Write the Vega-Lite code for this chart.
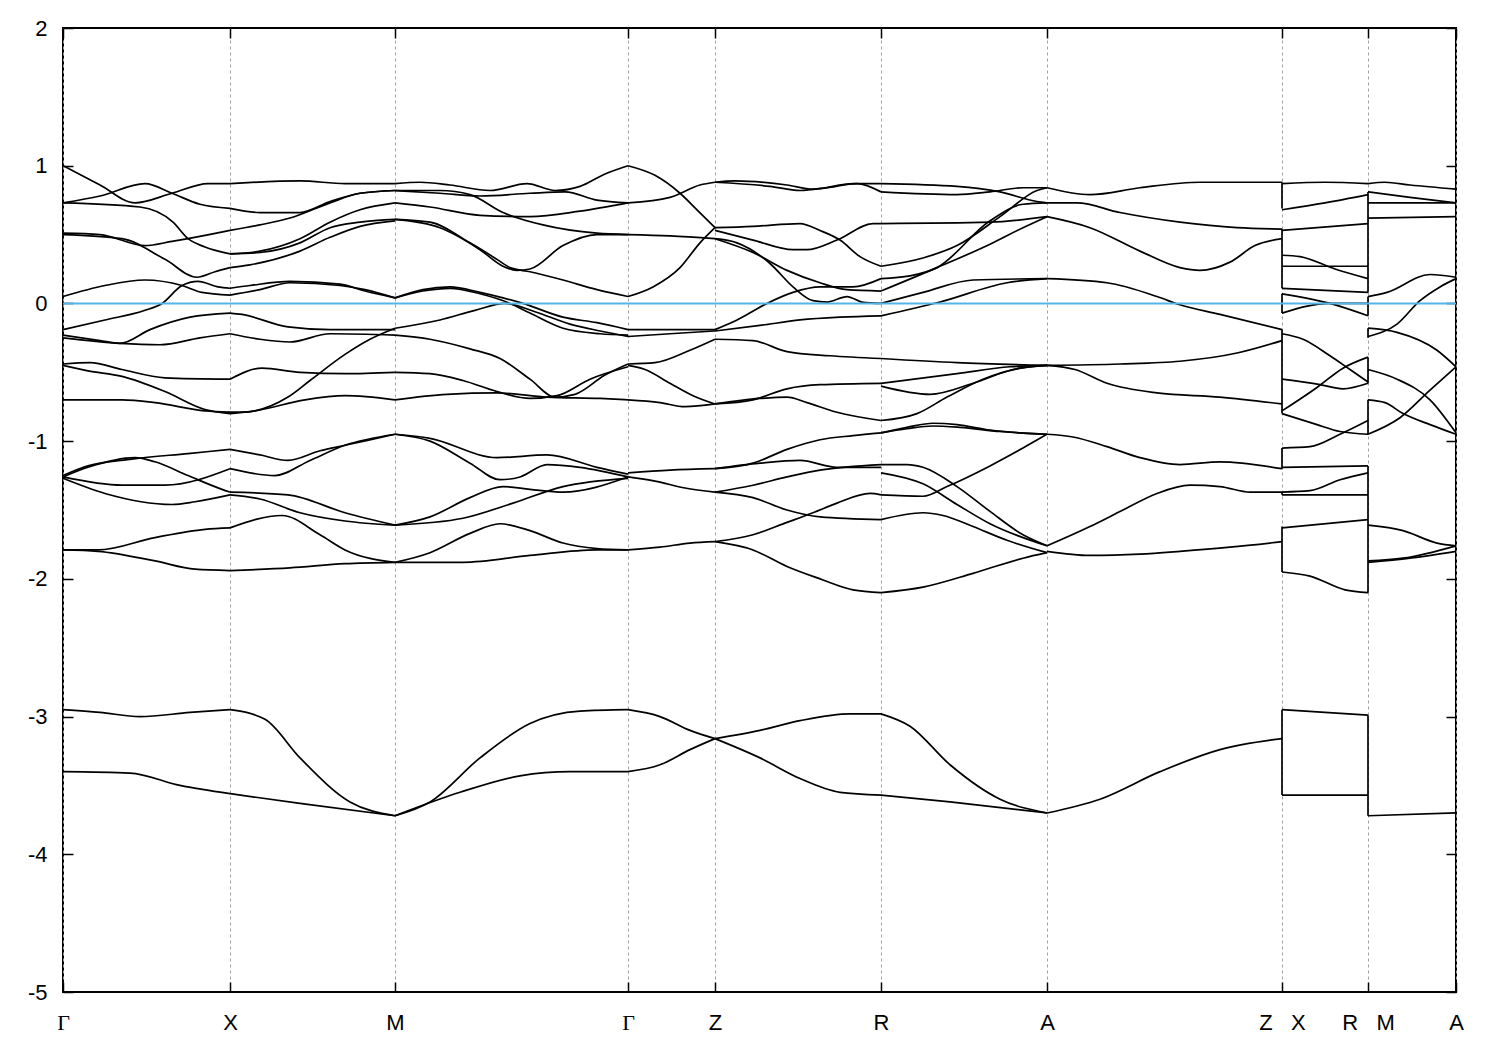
{
"$schema": "https://vega.github.io/schema/vega-lite/v6.json",
"width": 1393, "height": 964,
"autosize": {"type": "none"},
"padding": {"left": 63, "top": 28, "right": 44, "bottom": 58},
"background": "white",
"config": {"view": {"stroke": "black", "strokeWidth": 2}},
"datasets": {
"jumps": [
{"k":1219,"lo":0.69,"hi":0.88},{"k":1219,"lo":0.11,"hi":0.54},{"k":1219,"lo":-0.07,"hi":0.07},{"k":1219,"lo":-0.80,"hi":-0.19},{"k":1219,"lo":-1.20,"hi":-1.05},{"k":1219,"lo":-1.39,"hi":-1.37},{"k":1219,"lo":-1.95,"hi":-1.62},{"k":1219,"lo":-3.57,"hi":-2.95},
{"k":1305,"lo":0.08,"hi":0.81},{"k":1305,"lo":-0.09,"hi":0.05},{"k":1305,"lo":-0.25,"hi":-0.18},{"k":1305,"lo":-0.58,"hi":-0.39},{"k":1305,"lo":-0.95,"hi":-0.70},{"k":1305,"lo":-2.10,"hi":-1.18},{"k":1305,"lo":-3.72,"hi":-2.99}
],
"bands": [
{"c":"1a","k":0,"e":1.0},{"c":"1a","k":37,"e":0.86},{"c":"1a","k":72,"e":0.73},{"c":"1a","k":109,"e":0.80},{"c":"1a","k":145,"e":0.87},{"c":"1a","k":167,"e":0.87},
{"c":"1b","k":0,"e":0.73},{"c":"1b","k":37,"e":0.78},{"c":"1b","k":82,"e":0.87},{"c":"1b","k":109,"e":0.80},{"c":"1b","k":137,"e":0.72},{"c":"1b","k":167,"e":0.69},
{"c":"1c","k":0,"e":0.73},{"c":"1c","k":77,"e":0.70},{"c":"1c","k":110,"e":0.59},{"c":"1c","k":125,"e":0.47},{"c":"1c","k":142,"e":0.41},{"c":"1c","k":167,"e":0.36},
{"c":"1d","k":0,"e":0.51},{"c":"1d","k":37,"e":0.50},{"c":"1d","k":82,"e":0.42},{"c":"1d","k":109,"e":0.45},{"c":"1d","k":125,"e":0.47},{"c":"1d","k":167,"e":0.53},
{"c":"1e","k":0,"e":0.50},{"c":"1e","k":59,"e":0.47},{"c":"1e","k":102,"e":0.32},{"c":"1e","k":134,"e":0.19},{"c":"1e","k":152,"e":0.23},{"c":"1e","k":167,"e":0.26},
{"c":"1f","k":0,"e":0.05},{"c":"1f","k":42,"e":0.13},{"c":"1f","k":82,"e":0.17},{"c":"1f","k":119,"e":0.13},{"c":"1f","k":139,"e":0.08},{"c":"1f","k":167,"e":0.06},
{"c":"1g","k":0,"e":-0.19},{"c":"1g","k":42,"e":-0.12},{"c":"1g","k":82,"e":-0.05},{"c":"1g","k":99,"e":0.0},{"c":"1g","k":119,"e":0.13},{"c":"1g","k":135,"e":0.16},{"c":"1g","k":155,"e":0.12},{"c":"1g","k":167,"e":0.11},
{"c":"1h","k":0,"e":-0.23},{"c":"1h","k":37,"e":-0.27},{"c":"1h","k":57,"e":-0.29},{"c":"1h","k":87,"e":-0.19},{"c":"1h","k":127,"e":-0.10},{"c":"1h","k":167,"e":-0.07},
{"c":"1i","k":0,"e":-0.25},{"c":"1i","k":57,"e":-0.29},{"c":"1i","k":97,"e":-0.30},{"c":"1i","k":137,"e":-0.25},{"c":"1i","k":167,"e":-0.22},
{"c":"1j","k":0,"e":-0.44},{"c":"1j","k":27,"e":-0.43},{"c":"1j","k":59,"e":-0.48},{"c":"1j","k":102,"e":-0.54},{"c":"1j","k":167,"e":-0.55},
{"c":"1k","k":0,"e":-0.45},{"c":"1k","k":25,"e":-0.49},{"c":"1k","k":59,"e":-0.53},{"c":"1k","k":102,"e":-0.64},{"c":"1k","k":142,"e":-0.77},{"c":"1k","k":167,"e":-0.80},
{"c":"1l","k":0,"e":-0.70},{"c":"1l","k":59,"e":-0.70},{"c":"1l","k":92,"e":-0.72},{"c":"1l","k":142,"e":-0.78},{"c":"1l","k":167,"e":-0.79},
{"c":"1m","k":0,"e":-1.25},{"c":"1m","k":25,"e":-1.18},{"c":"1m","k":69,"e":-1.13},{"c":"1m","k":125,"e":-1.09},{"c":"1m","k":167,"e":-1.06},
{"c":"1n","k":0,"e":-1.26},{"c":"1n","k":25,"e":-1.19},{"c":"1n","k":72,"e":-1.12},{"c":"1n","k":92,"e":-1.15},{"c":"1n","k":125,"e":-1.25},{"c":"1n","k":159,"e":-1.35},{"c":"1n","k":167,"e":-1.37},
{"c":"1o","k":0,"e":-1.26},{"c":"1o","k":59,"e":-1.32},{"c":"1o","k":102,"e":-1.32},{"c":"1o","k":167,"e":-1.20},
{"c":"1p","k":0,"e":-1.27},{"c":"1p","k":42,"e":-1.38},{"c":"1p","k":109,"e":-1.46},{"c":"1p","k":132,"e":-1.44},{"c":"1p","k":167,"e":-1.39},
{"c":"1q","k":0,"e":-1.79},{"c":"1q","k":35,"e":-1.79},{"c":"1q","k":92,"e":-1.70},{"c":"1q","k":142,"e":-1.64},{"c":"1q","k":167,"e":-1.63},
{"c":"1r","k":0,"e":-1.79},{"c":"1r","k":35,"e":-1.80},{"c":"1r","k":92,"e":-1.87},{"c":"1r","k":132,"e":-1.93},{"c":"1r","k":167,"e":-1.94},
{"c":"1s","k":0,"e":-2.95},{"c":"1s","k":37,"e":-2.97},{"c":"1s","k":77,"e":-3.00},{"c":"1s","k":127,"e":-2.97},{"c":"1s","k":167,"e":-2.95},
{"c":"1t","k":0,"e":-3.40},{"c":"1t","k":67,"e":-3.41},{"c":"1t","k":117,"e":-3.50},{"c":"1t","k":167,"e":-3.56},
{"c":"2a","k":167,"e":0.87},{"c":"2a","k":237,"e":0.89},{"c":"2a","k":282,"e":0.87},{"c":"2a","k":332,"e":0.87},
{"c":"2b","k":167,"e":0.69},{"c":"2b","k":197,"e":0.66},{"c":"2b","k":237,"e":0.66},{"c":"2b","k":267,"e":0.74},{"c":"2b","k":297,"e":0.80},{"c":"2b","k":332,"e":0.82},
{"c":"2c","k":167,"e":0.53},{"c":"2c","k":197,"e":0.57},{"c":"2c","k":227,"e":0.62},{"c":"2c","k":267,"e":0.73},{"c":"2c","k":297,"e":0.80},{"c":"2c","k":332,"e":0.82},
{"c":"2d","k":167,"e":0.36},{"c":"2d","k":197,"e":0.38},{"c":"2d","k":237,"e":0.47},{"c":"2d","k":267,"e":0.59},{"c":"2d","k":297,"e":0.68},{"c":"2d","k":332,"e":0.73},
{"c":"2e","k":167,"e":0.36},{"c":"2e","k":197,"e":0.37},{"c":"2e","k":237,"e":0.44},{"c":"2e","k":267,"e":0.55},{"c":"2e","k":297,"e":0.59},{"c":"2e","k":332,"e":0.61},
{"c":"2f","k":167,"e":0.26},{"c":"2f","k":187,"e":0.28},{"c":"2f","k":237,"e":0.38},{"c":"2f","k":267,"e":0.48},{"c":"2f","k":297,"e":0.56},{"c":"2f","k":332,"e":0.60},
{"c":"2g","k":167,"e":0.11},{"c":"2g","k":187,"e":0.13},{"c":"2g","k":227,"e":0.16},{"c":"2g","k":277,"e":0.14},{"c":"2g","k":302,"e":0.09},{"c":"2g","k":332,"e":0.04},
{"c":"2h","k":167,"e":0.06},{"c":"2h","k":197,"e":0.10},{"c":"2h","k":227,"e":0.15},{"c":"2h","k":277,"e":0.13},{"c":"2h","k":302,"e":0.10},{"c":"2h","k":332,"e":0.04},
{"c":"2i","k":167,"e":-0.07},{"c":"2i","k":179,"e":-0.08},{"c":"2i","k":225,"e":-0.17},{"c":"2i","k":267,"e":-0.19},{"c":"2i","k":332,"e":-0.19},
{"c":"2j","k":167,"e":-0.22},{"c":"2j","k":197,"e":-0.26},{"c":"2j","k":227,"e":-0.28},{"c":"2j","k":267,"e":-0.22},{"c":"2j","k":332,"e":-0.23},
{"c":"2k","k":167,"e":-0.55},{"c":"2k","k":199,"e":-0.47},{"c":"2k","k":237,"e":-0.50},{"c":"2k","k":282,"e":-0.51},{"c":"2k","k":332,"e":-0.50},
{"c":"2l","k":167,"e":-0.79},{"c":"2l","k":179,"e":-0.79},{"c":"2l","k":225,"e":-0.68},{"c":"2l","k":247,"e":-0.56},{"c":"2l","k":282,"e":-0.37},{"c":"2l","k":307,"e":-0.26},{"c":"2l","k":332,"e":-0.18},
{"c":"2m","k":167,"e":-0.80},{"c":"2m","k":192,"e":-0.78},{"c":"2m","k":242,"e":-0.70},{"c":"2m","k":282,"e":-0.67},{"c":"2m","k":332,"e":-0.70},
{"c":"2n","k":167,"e":-1.06},{"c":"2n","k":197,"e":-1.10},{"c":"2n","k":225,"e":-1.14},{"c":"2n","k":257,"e":-1.07},{"c":"2n","k":282,"e":-1.03},{"c":"2n","k":332,"e":-0.95},
{"c":"2o","k":167,"e":-1.20},{"c":"2o","k":212,"e":-1.25},{"c":"2o","k":247,"e":-1.14},{"c":"2o","k":282,"e":-1.03},{"c":"2o","k":332,"e":-0.95},
{"c":"2p","k":167,"e":-1.37},{"c":"2p","k":225,"e":-1.39},{"c":"2p","k":282,"e":-1.52},{"c":"2p","k":332,"e":-1.61},
{"c":"2q","k":167,"e":-1.39},{"c":"2q","k":197,"e":-1.42},{"c":"2q","k":237,"e":-1.52},{"c":"2q","k":282,"e":-1.58},{"c":"2q","k":332,"e":-1.61},
{"c":"2r","k":167,"e":-1.63},{"c":"2r","k":219,"e":-1.54},{"c":"2r","k":257,"e":-1.68},{"c":"2r","k":282,"e":-1.79},{"c":"2r","k":332,"e":-1.88},
{"c":"2s","k":167,"e":-1.94},{"c":"2s","k":227,"e":-1.92},{"c":"2s","k":282,"e":-1.89},{"c":"2s","k":332,"e":-1.88},
{"c":"2t","k":167,"e":-2.95},{"c":"2t","k":202,"e":-3.02},{"c":"2t","k":237,"e":-3.30},{"c":"2t","k":287,"e":-3.62},{"c":"2t","k":332,"e":-3.72},
{"c":"2u","k":167,"e":-3.56},{"c":"2u","k":237,"e":-3.63},{"c":"2u","k":332,"e":-3.72},
{"c":"3a","k":332,"e":0.87},{"c":"3a","k":357,"e":0.88},{"c":"3a","k":387,"e":0.86},{"c":"3a","k":427,"e":0.82},{"c":"3a","k":464,"e":0.87},{"c":"3a","k":492,"e":0.82},{"c":"3a","k":517,"e":0.85},{"c":"3a","k":542,"e":0.94},{"c":"3a","k":565,"e":1.0},
{"c":"3b","k":332,"e":0.82},{"c":"3b","k":377,"e":0.80},{"c":"3b","k":417,"e":0.78},{"c":"3b","k":467,"e":0.80},{"c":"3b","k":502,"e":0.81},{"c":"3b","k":534,"e":0.75},{"c":"3b","k":565,"e":0.73},
{"c":"3c","k":332,"e":0.82},{"c":"3c","k":377,"e":0.82},{"c":"3c","k":407,"e":0.79},{"c":"3c","k":440,"e":0.66},{"c":"3c","k":480,"e":0.57},{"c":"3c","k":534,"e":0.51},{"c":"3c","k":565,"e":0.50},
{"c":"3d","k":332,"e":0.73},{"c":"3d","k":367,"e":0.70},{"c":"3d","k":417,"e":0.64},{"c":"3d","k":467,"e":0.63},{"c":"3d","k":517,"e":0.67},{"c":"3d","k":565,"e":0.73},
{"c":"3e","k":332,"e":0.61},{"c":"3e","k":377,"e":0.55},{"c":"3e","k":417,"e":0.39},{"c":"3e","k":440,"e":0.27},{"c":"3e","k":454,"e":0.24},{"c":"3e","k":467,"e":0.25},{"c":"3e","k":500,"e":0.42},{"c":"3e","k":534,"e":0.50},{"c":"3e","k":565,"e":0.50},
{"c":"3f","k":332,"e":0.61},{"c":"3f","k":367,"e":0.59},{"c":"3f","k":407,"e":0.44},{"c":"3f","k":434,"e":0.32},{"c":"3f","k":447,"e":0.26},{"c":"3f","k":467,"e":0.23},{"c":"3f","k":500,"e":0.17},{"c":"3f","k":534,"e":0.10},{"c":"3f","k":565,"e":0.05},
{"c":"3g","k":332,"e":0.04},{"c":"3g","k":360,"e":0.10},{"c":"3g","k":387,"e":0.12},{"c":"3g","k":417,"e":0.08},{"c":"3g","k":440,"e":0.04},{"c":"3g","k":460,"e":0.0},{"c":"3g","k":500,"e":-0.10},{"c":"3g","k":534,"e":-0.14},{"c":"3g","k":565,"e":-0.19},
{"c":"3h","k":332,"e":0.04},{"c":"3h","k":360,"e":0.09},{"c":"3h","k":387,"e":0.11},{"c":"3h","k":417,"e":0.07},{"c":"3h","k":447,"e":0.0},{"c":"3h","k":467,"e":-0.07},{"c":"3h","k":500,"e":-0.18},{"c":"3h","k":537,"e":-0.22},{"c":"3h","k":565,"e":-0.23},
{"c":"3i","k":332,"e":-0.18},{"c":"3i","k":377,"e":-0.12},{"c":"3i","k":412,"e":-0.05},{"c":"3i","k":442,"e":0.0},{"c":"3i","k":472,"e":-0.06},{"c":"3i","k":507,"e":-0.15},{"c":"3i","k":537,"e":-0.20},{"c":"3i","k":565,"e":-0.24},
{"c":"3j","k":332,"e":-0.23},{"c":"3j","k":367,"e":-0.26},{"c":"3j","k":407,"e":-0.33},{"c":"3j","k":437,"e":-0.40},{"c":"3j","k":467,"e":-0.55},{"c":"3j","k":492,"e":-0.68},{"c":"3j","k":512,"e":-0.66},{"c":"3j","k":542,"e":-0.52},{"c":"3j","k":565,"e":-0.44},
{"c":"3k","k":332,"e":-0.50},{"c":"3k","k":367,"e":-0.51},{"c":"3k","k":400,"e":-0.56},{"c":"3k","k":434,"e":-0.64},{"c":"3k","k":467,"e":-0.69},{"c":"3k","k":494,"e":-0.67},{"c":"3k","k":527,"e":-0.55},{"c":"3k","k":565,"e":-0.46},
{"c":"3l","k":332,"e":-0.70},{"c":"3l","k":384,"e":-0.66},{"c":"3l","k":434,"e":-0.65},{"c":"3l","k":484,"e":-0.68},{"c":"3l","k":537,"e":-0.69},{"c":"3l","k":565,"e":-0.70},
{"c":"3m","k":332,"e":-0.95},{"c":"3m","k":367,"e":-0.98},{"c":"3m","k":434,"e":-1.12},{"c":"3m","k":484,"e":-1.10},{"c":"3m","k":534,"e":-1.19},{"c":"3m","k":565,"e":-1.24},
{"c":"3n","k":332,"e":-0.95},{"c":"3n","k":367,"e":-1.00},{"c":"3n","k":407,"e":-1.16},{"c":"3n","k":437,"e":-1.28},{"c":"3n","k":457,"e":-1.26},{"c":"3n","k":484,"e":-1.17},{"c":"3n","k":517,"e":-1.19},{"c":"3n","k":565,"e":-1.26},
{"c":"3o","k":332,"e":-1.61},{"c":"3o","k":367,"e":-1.55},{"c":"3o","k":407,"e":-1.41},{"c":"3o","k":440,"e":-1.33},{"c":"3o","k":467,"e":-1.35},{"c":"3o","k":500,"e":-1.37},{"c":"3o","k":565,"e":-1.26},
{"c":"3p","k":332,"e":-1.61},{"c":"3p","k":400,"e":-1.56},{"c":"3p","k":450,"e":-1.45},{"c":"3p","k":500,"e":-1.33},{"c":"3p","k":565,"e":-1.27},
{"c":"3q","k":332,"e":-1.88},{"c":"3q","k":367,"e":-1.81},{"c":"3q","k":407,"e":-1.67},{"c":"3q","k":437,"e":-1.60},{"c":"3q","k":467,"e":-1.65},{"c":"3q","k":500,"e":-1.74},{"c":"3q","k":534,"e":-1.78},{"c":"3q","k":565,"e":-1.79},
{"c":"3r","k":332,"e":-1.88},{"c":"3r","k":400,"e":-1.88},{"c":"3r","k":467,"e":-1.83},{"c":"3r","k":534,"e":-1.79},{"c":"3r","k":565,"e":-1.79},
{"c":"3s","k":332,"e":-3.72},{"c":"3s","k":367,"e":-3.62},{"c":"3s","k":417,"e":-3.30},{"c":"3s","k":467,"e":-3.05},{"c":"3s","k":517,"e":-2.96},{"c":"3s","k":565,"e":-2.95},
{"c":"3t","k":332,"e":-3.72},{"c":"3t","k":397,"e":-3.55},{"c":"3t","k":457,"e":-3.43},{"c":"3t","k":507,"e":-3.40},{"c":"3t","k":565,"e":-3.40},
{"c":"4a","k":565,"e":1.0},{"c":"4a","k":592,"e":0.93},{"c":"4a","k":617,"e":0.80},{"c":"4a","k":634,"e":0.68},{"c":"4a","k":652,"e":0.55},
{"c":"4b","k":565,"e":0.73},{"c":"4b","k":607,"e":0.77},{"c":"4b","k":637,"e":0.86},{"c":"4b","k":652,"e":0.88},
{"c":"4c","k":565,"e":0.50},{"c":"4c","k":607,"e":0.49},{"c":"4c","k":652,"e":0.47},
{"c":"4d","k":565,"e":0.05},{"c":"4d","k":590,"e":0.12},{"c":"4d","k":617,"e":0.26},{"c":"4d","k":637,"e":0.44},{"c":"4d","k":652,"e":0.55},
{"c":"4e","k":565,"e":-0.19},{"c":"4e","k":607,"e":-0.19},{"c":"4e","k":652,"e":-0.19},
{"c":"4f","k":565,"e":-0.24},{"c":"4f","k":607,"e":-0.22},{"c":"4f","k":652,"e":-0.20},
{"c":"4g","k":565,"e":-0.44},{"c":"4g","k":592,"e":-0.43},{"c":"4g","k":627,"e":-0.34},{"c":"4g","k":652,"e":-0.26},
{"c":"4h","k":565,"e":-0.45},{"c":"4h","k":582,"e":-0.48},{"c":"4h","k":607,"e":-0.58},{"c":"4h","k":630,"e":-0.67},{"c":"4h","k":652,"e":-0.73},
{"c":"4i","k":565,"e":-0.70},{"c":"4i","k":597,"e":-0.72},{"c":"4i","k":622,"e":-0.75},{"c":"4i","k":652,"e":-0.73},
{"c":"4j","k":565,"e":-1.23},{"c":"4j","k":607,"e":-1.21},{"c":"4j","k":652,"e":-1.20},
{"c":"4k","k":565,"e":-1.26},{"c":"4k","k":592,"e":-1.29},{"c":"4k","k":622,"e":-1.34},{"c":"4k","k":652,"e":-1.37},
{"c":"4l","k":565,"e":-1.79},{"c":"4l","k":597,"e":-1.77},{"c":"4l","k":627,"e":-1.74},{"c":"4l","k":652,"e":-1.73},
{"c":"4m","k":565,"e":-2.95},{"c":"4m","k":597,"e":-3.00},{"c":"4m","k":627,"e":-3.10},{"c":"4m","k":652,"e":-3.16},
{"c":"4n","k":565,"e":-3.40},{"c":"4n","k":597,"e":-3.35},{"c":"4n","k":627,"e":-3.24},{"c":"4n","k":652,"e":-3.16},
{"c":"5a","k":652,"e":0.88},{"c":"5a","k":672,"e":0.89},{"c":"5a","k":724,"e":0.86},{"c":"5a","k":750,"e":0.83},{"c":"5a","k":790,"e":0.87},{"c":"5a","k":818,"e":0.87},
{"c":"5b","k":652,"e":0.88},{"c":"5b","k":707,"e":0.85},{"c":"5b","k":737,"e":0.82},{"c":"5b","k":764,"e":0.84},{"c":"5b","k":794,"e":0.87},{"c":"5b","k":818,"e":0.81},
{"c":"5c","k":652,"e":0.55},{"c":"5c","k":690,"e":0.56},{"c":"5c","k":737,"e":0.58},{"c":"5c","k":757,"e":0.53},{"c":"5c","k":777,"e":0.46},{"c":"5c","k":797,"e":0.34},{"c":"5c","k":818,"e":0.27},
{"c":"5d","k":652,"e":0.53},{"c":"5d","k":690,"e":0.46},{"c":"5d","k":730,"e":0.39},{"c":"5d","k":744,"e":0.39},{"c":"5d","k":774,"e":0.46},{"c":"5d","k":810,"e":0.58},{"c":"5d","k":818,"e":0.58},
{"c":"5e","k":652,"e":0.47},{"c":"5e","k":674,"e":0.44},{"c":"5e","k":707,"e":0.29},{"c":"5e","k":730,"e":0.12},{"c":"5e","k":750,"e":0.02},{"c":"5e","k":764,"e":0.01},{"c":"5e","k":784,"e":0.05},{"c":"5e","k":799,"e":0.01},{"c":"5e","k":818,"e":0.0},
{"c":"5f","k":652,"e":0.47},{"c":"5f","k":690,"e":0.37},{"c":"5f","k":724,"e":0.24},{"c":"5f","k":757,"e":0.15},{"c":"5f","k":784,"e":0.10},{"c":"5f","k":818,"e":0.09},
{"c":"5g","k":652,"e":-0.19},{"c":"5g","k":674,"e":-0.12},{"c":"5g","k":704,"e":0.0},{"c":"5g","k":730,"e":0.08},{"c":"5g","k":757,"e":0.12},{"c":"5g","k":790,"e":0.12},{"c":"5g","k":818,"e":0.18},
{"c":"5h","k":652,"e":-0.20},{"c":"5h","k":697,"e":-0.16},{"c":"5h","k":737,"e":-0.12},{"c":"5h","k":777,"e":-0.10},{"c":"5h","k":818,"e":-0.09},
{"c":"5i","k":652,"e":-0.26},{"c":"5i","k":690,"e":-0.27},{"c":"5i","k":724,"e":-0.35},{"c":"5i","k":767,"e":-0.38},{"c":"5i","k":818,"e":-0.40},
{"c":"5j","k":652,"e":-0.73},{"c":"5j","k":690,"e":-0.70},{"c":"5j","k":724,"e":-0.62},{"c":"5j","k":757,"e":-0.59},{"c":"5j","k":818,"e":-0.58},
{"c":"5k","k":652,"e":-0.73},{"c":"5k","k":697,"e":-0.69},{"c":"5k","k":724,"e":-0.68},{"c":"5k","k":744,"e":-0.72},{"c":"5k","k":774,"e":-0.79},{"c":"5k","k":818,"e":-0.85},
{"c":"5l","k":652,"e":-1.20},{"c":"5l","k":690,"e":-1.16},{"c":"5l","k":724,"e":-1.06},{"c":"5l","k":757,"e":-0.99},{"c":"5l","k":790,"e":-0.96},{"c":"5l","k":818,"e":-0.94},
{"c":"5m","k":652,"e":-1.20},{"c":"5m","k":697,"e":-1.16},{"c":"5m","k":737,"e":-1.14},{"c":"5m","k":774,"e":-1.19},{"c":"5m","k":818,"e":-1.19},
{"c":"5n","k":652,"e":-1.37},{"c":"5n","k":690,"e":-1.41},{"c":"5n","k":724,"e":-1.50},{"c":"5n","k":757,"e":-1.55},{"c":"5n","k":818,"e":-1.57},
{"c":"5o","k":652,"e":-1.37},{"c":"5o","k":690,"e":-1.32},{"c":"5o","k":724,"e":-1.26},{"c":"5o","k":757,"e":-1.21},{"c":"5o","k":818,"e":-1.17},
{"c":"5p","k":652,"e":-1.73},{"c":"5p","k":690,"e":-1.68},{"c":"5p","k":724,"e":-1.59},{"c":"5p","k":750,"e":-1.52},{"c":"5p","k":774,"e":-1.45},{"c":"5p","k":807,"e":-1.38},{"c":"5p","k":818,"e":-1.39},
{"c":"5q","k":652,"e":-1.73},{"c":"5q","k":690,"e":-1.79},{"c":"5q","k":724,"e":-1.91},{"c":"5q","k":757,"e":-2.00},{"c":"5q","k":790,"e":-2.08},{"c":"5q","k":818,"e":-2.10},
{"c":"5r","k":652,"e":-3.16},{"c":"5r","k":697,"e":-3.10},{"c":"5r","k":737,"e":-3.03},{"c":"5r","k":787,"e":-2.98},{"c":"5r","k":818,"e":-2.98},
{"c":"5s","k":652,"e":-3.16},{"c":"5s","k":697,"e":-3.30},{"c":"5s","k":737,"e":-3.45},{"c":"5s","k":777,"e":-3.55},{"c":"5s","k":818,"e":-3.57},
{"c":"6a","k":818,"e":0.87},{"c":"6a","k":894,"e":0.85},{"c":"6a","k":937,"e":0.81},{"c":"6a","k":974,"e":0.74},{"c":"6a","k":984,"e":0.73},
{"c":"6b","k":818,"e":0.81},{"c":"6b","k":894,"e":0.79},{"c":"6b","k":927,"e":0.81},{"c":"6b","k":960,"e":0.84},{"c":"6b","k":984,"e":0.84},
{"c":"6c","k":818,"e":0.58},{"c":"6c","k":927,"e":0.59},{"c":"6c","k":984,"e":0.63},
{"c":"6d","k":818,"e":0.27},{"c":"6d","k":860,"e":0.33},{"c":"6d","k":894,"e":0.42},{"c":"6d","k":937,"e":0.63},{"c":"6d","k":974,"e":0.82},{"c":"6d","k":984,"e":0.84},
{"c":"6e","k":818,"e":0.18},{"c":"6e","k":847,"e":0.20},{"c":"6e","k":874,"e":0.26},{"c":"6e","k":927,"e":0.60},{"c":"6e","k":960,"e":0.72},{"c":"6e","k":984,"e":0.73},
{"c":"6f","k":818,"e":0.09},{"c":"6f","k":874,"e":0.26},{"c":"6f","k":927,"e":0.43},{"c":"6f","k":960,"e":0.55},{"c":"6f","k":984,"e":0.63},
{"c":"6g","k":818,"e":0.0},{"c":"6g","k":860,"e":0.08},{"c":"6g","k":910,"e":0.17},{"c":"6g","k":984,"e":0.18},
{"c":"6h","k":818,"e":-0.09},{"c":"6h","k":877,"e":0.01},{"c":"6h","k":944,"e":0.15},{"c":"6h","k":984,"e":0.18},
{"c":"6i","k":818,"e":-0.40},{"c":"6i","k":894,"e":-0.43},{"c":"6i","k":984,"e":-0.45},
{"c":"6j","k":818,"e":-0.58},{"c":"6j","k":894,"e":-0.51},{"c":"6j","k":947,"e":-0.46},{"c":"6j","k":984,"e":-0.45},
{"c":"6k","k":818,"e":-0.60},{"c":"6k","k":867,"e":-0.66},{"c":"6k","k":910,"e":-0.58},{"c":"6k","k":950,"e":-0.48},{"c":"6k","k":984,"e":-0.45},
{"c":"6l","k":818,"e":-0.85},{"c":"6l","k":854,"e":-0.80},{"c":"6l","k":884,"e":-0.68},{"c":"6l","k":920,"e":-0.55},{"c":"6l","k":957,"e":-0.47},{"c":"6l","k":984,"e":-0.45},
{"c":"6m","k":818,"e":-0.94},{"c":"6m","k":844,"e":-0.90},{"c":"6m","k":870,"e":-0.87},{"c":"6m","k":894,"e":-0.88},{"c":"6m","k":927,"e":-0.92},{"c":"6m","k":984,"e":-0.95},
{"c":"6n","k":818,"e":-0.94},{"c":"6n","k":844,"e":-0.91},{"c":"6n","k":870,"e":-0.89},{"c":"6n","k":897,"e":-0.90},{"c":"6n","k":937,"e":-0.93},{"c":"6n","k":984,"e":-0.95},
{"c":"6o","k":818,"e":-1.17},{"c":"6o","k":844,"e":-1.17},{"c":"6o","k":860,"e":-1.19},{"c":"6o","k":894,"e":-1.33},{"c":"6o","k":927,"e":-1.51},{"c":"6o","k":960,"e":-1.68},{"c":"6o","k":984,"e":-1.76},
{"c":"6p","k":818,"e":-1.23},{"c":"6p","k":860,"e":-1.31},{"c":"6p","k":894,"e":-1.46},{"c":"6p","k":927,"e":-1.60},{"c":"6p","k":984,"e":-1.76},
{"c":"6q","k":818,"e":-1.39},{"c":"6q","k":860,"e":-1.40},{"c":"6q","k":884,"e":-1.33},{"c":"6q","k":927,"e":-1.18},{"c":"6q","k":960,"e":-1.05},{"c":"6q","k":984,"e":-0.95},
{"c":"6r","k":818,"e":-1.57},{"c":"6r","k":860,"e":-1.52},{"c":"6r","k":880,"e":-1.54},{"c":"6r","k":910,"e":-1.62},{"c":"6r","k":944,"e":-1.72},{"c":"6r","k":984,"e":-1.81},
{"c":"6s","k":818,"e":-2.10},{"c":"6s","k":860,"e":-2.06},{"c":"6s","k":910,"e":-1.96},{"c":"6s","k":960,"e":-1.85},{"c":"6s","k":984,"e":-1.81},
{"c":"6t","k":818,"e":-2.98},{"c":"6t","k":847,"e":-3.07},{"c":"6t","k":887,"e":-3.35},{"c":"6t","k":937,"e":-3.60},{"c":"6t","k":984,"e":-3.70},
{"c":"6u","k":818,"e":-3.57},{"c":"6u","k":887,"e":-3.62},{"c":"6u","k":984,"e":-3.70},
{"c":"7a","k":984,"e":0.84},{"c":"7a","k":1027,"e":0.79},{"c":"7a","k":1077,"e":0.84},{"c":"7a","k":1137,"e":0.88},{"c":"7a","k":1219,"e":0.88},
{"c":"7b","k":984,"e":0.73},{"c":"7b","k":1014,"e":0.73},{"c":"7b","k":1057,"e":0.66},{"c":"7b","k":1117,"e":0.59},{"c":"7b","k":1174,"e":0.55},{"c":"7b","k":1219,"e":0.54},
{"c":"7c","k":984,"e":0.63},{"c":"7c","k":1027,"e":0.55},{"c":"7c","k":1077,"e":0.38},{"c":"7c","k":1117,"e":0.26},{"c":"7c","k":1137,"e":0.24},{"c":"7c","k":1167,"e":0.30},{"c":"7c","k":1192,"e":0.42},{"c":"7c","k":1219,"e":0.47},
{"c":"7d","k":984,"e":0.18},{"c":"7d","k":1044,"e":0.15},{"c":"7d","k":1094,"e":0.05},{"c":"7d","k":1117,"e":-0.01},{"c":"7d","k":1157,"e":-0.08},{"c":"7d","k":1219,"e":-0.19},
{"c":"7e","k":984,"e":-0.45},{"c":"7e","k":1057,"e":-0.44},{"c":"7e","k":1117,"e":-0.42},{"c":"7e","k":1174,"e":-0.36},{"c":"7e","k":1219,"e":-0.27},
{"c":"7f","k":984,"e":-0.45},{"c":"7f","k":1012,"e":-0.48},{"c":"7f","k":1044,"e":-0.58},{"c":"7f","k":1094,"e":-0.65},{"c":"7f","k":1157,"e":-0.68},{"c":"7f","k":1219,"e":-0.73},
{"c":"7g","k":984,"e":-0.95},{"c":"7g","k":1010,"e":-0.97},{"c":"7g","k":1044,"e":-1.04},{"c":"7g","k":1077,"e":-1.12},{"c":"7g","k":1117,"e":-1.17},{"c":"7g","k":1157,"e":-1.15},{"c":"7g","k":1219,"e":-1.20},
{"c":"7h","k":984,"e":-1.76},{"c":"7h","k":1027,"e":-1.62},{"c":"7h","k":1060,"e":-1.50},{"c":"7h","k":1094,"e":-1.38},{"c":"7h","k":1127,"e":-1.32},{"c":"7h","k":1157,"e":-1.33},{"c":"7h","k":1187,"e":-1.37},{"c":"7h","k":1219,"e":-1.37},
{"c":"7i","k":984,"e":-1.80},{"c":"7i","k":1027,"e":-1.83},{"c":"7i","k":1077,"e":-1.82},{"c":"7i","k":1117,"e":-1.80},{"c":"7i","k":1167,"e":-1.77},{"c":"7i","k":1219,"e":-1.73},
{"c":"7j","k":984,"e":-3.70},{"c":"7j","k":1037,"e":-3.60},{"c":"7j","k":1097,"e":-3.40},{"c":"7j","k":1157,"e":-3.24},{"c":"7j","k":1219,"e":-3.16},
{"c":"8a","k":1219,"e":0.87},{"c":"8a","k":1262,"e":0.88},{"c":"8a","k":1305,"e":0.87},
{"c":"8b","k":1219,"e":0.68},{"c":"8b","k":1262,"e":0.73},{"c":"8b","k":1305,"e":0.79},
{"c":"8c","k":1219,"e":0.53},{"c":"8c","k":1305,"e":0.58},
{"c":"8d","k":1219,"e":0.35},{"c":"8d","k":1237,"e":0.34},{"c":"8d","k":1272,"e":0.25},{"c":"8d","k":1305,"e":0.18},
{"c":"8e","k":1219,"e":0.27},{"c":"8e","k":1305,"e":0.27},
{"c":"8f","k":1219,"e":0.11},{"c":"8f","k":1305,"e":0.08},
{"c":"8g","k":1219,"e":0.07},{"c":"8g","k":1267,"e":0.0},{"c":"8g","k":1305,"e":-0.09},
{"c":"8h","k":1219,"e":-0.07},{"c":"8h","k":1267,"e":0.0},{"c":"8h","k":1305,"e":0.0},
{"c":"8i","k":1219,"e":-0.22},{"c":"8i","k":1240,"e":-0.26},{"c":"8i","k":1267,"e":-0.38},{"c":"8i","k":1287,"e":-0.48},{"c":"8i","k":1305,"e":-0.57},
{"c":"8j","k":1219,"e":-0.55},{"c":"8j","k":1257,"e":-0.59},{"c":"8j","k":1280,"e":-0.62},{"c":"8j","k":1305,"e":-0.58},
{"c":"8k","k":1219,"e":-0.78},{"c":"8k","k":1254,"e":-0.61},{"c":"8k","k":1280,"e":-0.47},{"c":"8k","k":1305,"e":-0.39},
{"c":"8l","k":1219,"e":-0.80},{"c":"8l","k":1254,"e":-0.88},{"c":"8l","k":1277,"e":-0.93},{"c":"8l","k":1305,"e":-0.95},
{"c":"8m","k":1219,"e":-1.05},{"c":"8m","k":1247,"e":-1.04},{"c":"8m","k":1277,"e":-0.95},{"c":"8m","k":1305,"e":-0.85},
{"c":"8n","k":1219,"e":-1.19},{"c":"8n","k":1305,"e":-1.18},
{"c":"8o","k":1219,"e":-1.37},{"c":"8o","k":1247,"e":-1.36},{"c":"8o","k":1277,"e":-1.28},{"c":"8o","k":1305,"e":-1.23},
{"c":"8p","k":1219,"e":-1.39},{"c":"8p","k":1305,"e":-1.39},
{"c":"8q","k":1219,"e":-1.63},{"c":"8q","k":1305,"e":-1.57},
{"c":"8r","k":1219,"e":-1.95},{"c":"8r","k":1247,"e":-1.98},{"c":"8r","k":1282,"e":-2.08},{"c":"8r","k":1305,"e":-2.10},
{"c":"8s","k":1219,"e":-2.95},{"c":"8s","k":1305,"e":-2.99},
{"c":"8t","k":1219,"e":-3.57},{"c":"8t","k":1305,"e":-3.57},
{"c":"9a","k":1305,"e":0.87},{"c":"9a","k":1322,"e":0.88},{"c":"9a","k":1347,"e":0.86},{"c":"9a","k":1393,"e":0.83},
{"c":"9b","k":1305,"e":0.81},{"c":"9b","k":1347,"e":0.77},{"c":"9b","k":1393,"e":0.73},
{"c":"9c","k":1305,"e":0.73},{"c":"9c","k":1393,"e":0.73},
{"c":"9d","k":1305,"e":0.62},{"c":"9d","k":1393,"e":0.63},
{"c":"9e","k":1305,"e":0.05},{"c":"9e","k":1324,"e":0.08},{"c":"9e","k":1367,"e":0.21},{"c":"9e","k":1393,"e":0.19},
{"c":"9f","k":1305,"e":-0.24},{"c":"9f","k":1334,"e":-0.15},{"c":"9f","k":1357,"e":0.02},{"c":"9f","k":1377,"e":0.12},{"c":"9f","k":1393,"e":0.18},
{"c":"9g","k":1305,"e":-0.18},{"c":"9g","k":1334,"e":-0.21},{"c":"9g","k":1374,"e":-0.34},{"c":"9g","k":1393,"e":-0.46},
{"c":"9h","k":1305,"e":-0.48},{"c":"9h","k":1334,"e":-0.55},{"c":"9h","k":1367,"e":-0.70},{"c":"9h","k":1393,"e":-0.94},
{"c":"9i","k":1305,"e":-0.70},{"c":"9i","k":1322,"e":-0.72},{"c":"9i","k":1340,"e":-0.80},{"c":"9i","k":1367,"e":-0.88},{"c":"9i","k":1393,"e":-0.95},
{"c":"9j","k":1305,"e":-0.95},{"c":"9j","k":1337,"e":-0.83},{"c":"9j","k":1367,"e":-0.63},{"c":"9j","k":1393,"e":-0.46},
{"c":"9k","k":1305,"e":-1.61},{"c":"9k","k":1340,"e":-1.65},{"c":"9k","k":1374,"e":-1.74},{"c":"9k","k":1393,"e":-1.76},
{"c":"9l","k":1305,"e":-1.87},{"c":"9l","k":1340,"e":-1.85},{"c":"9l","k":1393,"e":-1.76},
{"c":"9m","k":1305,"e":-1.88},{"c":"9m","k":1347,"e":-1.85},{"c":"9m","k":1393,"e":-1.80},
{"c":"9n","k":1305,"e":-3.72},{"c":"9n","k":1393,"e":-3.70}
]
},
"layer": [
{
"data": {"name": "bands"},
"mark": {"type": "line", "interpolate": "monotone", "color": "black", "strokeWidth": 1.7},
"encoding": {
"x": {"field": "k", "type": "quantitative", "scale": {"domain": [0, 1393], "nice": false, "zero": false},
"axis": {"orient": "bottom", "title": null, "values": [0,167,332,565,652,818,984,1219,1305,1393],
"labelExpr": "datum.value == 0 || datum.value == 565 ? 'Γ' : datum.value == 167 ? 'X' : datum.value == 332 ? 'M' : datum.value == 652 ? 'Z' : datum.value == 818 ? 'R' : datum.value == 984 ? 'A' : datum.value == 1219 ? 'Z\u00a0\u00a0\u00a0X' : datum.value == 1305 ? 'R\u00a0\u00a0\u00a0M' : 'A'",
"grid": true, "gridDash": [3,3], "gridColor": "#a0a0a0", "gridWidth": 1, "domain": false,
"ticks": true, "tickSize": -10, "tickColor": "black", "tickWidth": 1.5,
"labelFontSize": 22, "labelColor": "black", "labelPadding": 30, "labelAngle": 0, "labelFlush": false, "labelOverlap": false, "labelBound": false,
"labelFont": {"condition": {"test": "datum.value == 0 || datum.value == 565", "value": "Liberation Serif"}, "value": "Liberation Sans"}}},
"y": {"field": "e", "type": "quantitative", "scale": {"domain": [-5, 2], "nice": false, "zero": false},
"axis": {"orient": "left", "title": null, "values": [-5,-4,-3,-2,-1,0,1,2], "labelExpr": "'' + datum.value",
"grid": false, "domain": false, "ticks": true, "tickSize": -10, "tickColor": "black", "tickWidth": 1.5,
"labelFontSize": 22, "labelFont": "Liberation Sans", "labelColor": "black", "labelPadding": 26, "labelFlush": false, "labelOverlap": false, "labelBound": false}},
"detail": {"field": "c", "type": "nominal"}
}
},
{
"data": {"name": "jumps"},
"mark": {"type": "rule", "color": "black", "strokeWidth": 1.7},
"encoding": {
"x": {"field": "k", "type": "quantitative",
"axis": {"orient": "top", "title": null, "values": [0,167,332,565,652,818,984,1219,1305,1393], "labels": false, "grid": false, "domain": false, "ticks": true, "tickSize": -10, "tickColor": "black", "tickWidth": 1.5}},
"y": {"field": "lo", "type": "quantitative",
"axis": {"orient": "right", "title": null, "values": [-5,-4,-3,-2,-1,0,1,2], "labels": false, "grid": false, "domain": false, "ticks": true, "tickSize": -10, "tickColor": "black", "tickWidth": 1.5}},
"y2": {"field": "hi"}
}
},
{
"data": {"values": [{"z": 0}]},
"mark": {"type": "rule", "color": "#56B4E9", "strokeWidth": 2},
"encoding": {"y": {"field": "z", "type": "quantitative", "axis": null}}
}
],
"resolve": {"axis": {"x": "independent", "y": "independent"}}
}
